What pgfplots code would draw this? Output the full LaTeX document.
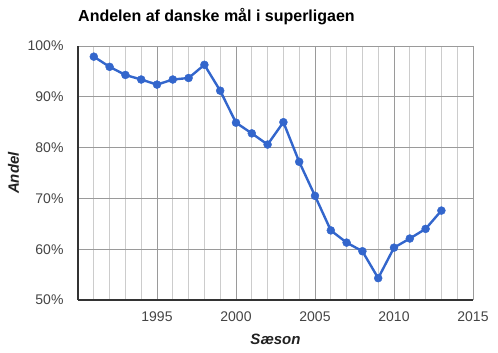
\documentclass[border=0pt]{standalone}
\usepackage{fontspec}
\setmainfont{Liberation Sans}
\usepackage{pgfplots}
\pgfplotsset{compat=1.18}
\definecolor{serie}{HTML}{3366CC}
\definecolor{majgrid}{HTML}{9A9A9A}
\definecolor{mingrid}{HTML}{CCCCCC}
\definecolor{axdark}{HTML}{333333}
\definecolor{ticktext}{HTML}{444444}
\begin{document}
\begin{tikzpicture}
\begin{axis}[
  scale only axis, width=395pt, height=254pt,
  xmin=1990, xmax=2015, ymin=50, ymax=100,
  xtick={1995,2000,2005,2010,2015},
  minor xtick={1991,1992,1993,1994,1996,1997,1998,1999,2001,2002,2003,2004,2006,2007,2008,2009,2011,2012,2013,2014},
  ytick={50,60,70,80,90,100},
  yticklabel={\pgfmathprintnumber{\tick}\%},
  /pgf/number format/assume math mode=true,
  xticklabel style={/pgf/number format/1000 sep=, font=\fontsize{14}{16}\selectfont, text=ticktext, yshift=-8pt},
  yticklabel style={font=\fontsize{14}{16}\selectfont, text=ticktext, xshift=-11pt},
  major tick length=0pt, minor tick length=0pt,
  grid=both,
  major grid style={color=majgrid, line width=0.9pt},
  minor grid style={color=mingrid, line width=0.9pt},
  axis lines=left,
  axis line style={-, color=axdark, line width=1.2pt},
  every axis title shift=0pt,
  title={Andelen af danske mål i superligaen},
  title style={at={(axis description cs:0,1.0945)}, anchor=base west, font=\bfseries\fontsize{16}{18}\selectfont, inner sep=0pt},
  xlabel={Sæson},
  ylabel={Andel},
  xlabel style={at={(axis description cs:0.5,-0.1752)}, anchor=base, font=\bfseries\itshape\fontsize{15}{18}\selectfont, inner sep=0pt, text=black!87},
  ylabel style={at={(axis description cs:-0.1494,0.5)}, anchor=base, font=\bfseries\itshape\fontsize{15}{18}\selectfont, inner sep=0pt, text=black!87},
  clip=false,
]
\addplot[color=serie, line width=2.4pt, mark=*, mark size=4pt, mark options={solid, fill=serie, draw=serie, line width=0.4pt}] coordinates {
(1991,97.9) (1992,95.9) (1993,94.3) (1994,93.4) (1995,92.4) (1996,93.4)
(1997,93.7) (1998,96.3) (1999,91.2) (2000,84.9) (2001,82.8) (2002,80.6)
(2003,85.0) (2004,77.2) (2005,70.5) (2006,63.7) (2007,61.3) (2008,59.6)
(2009,54.3) (2010,60.3) (2011,62.1) (2012,64.0) (2013,67.6)
};
\end{axis}
\path ([xshift=-78pt,yshift=-53pt]current axis.south west) rectangle ([xshift=25pt,yshift=46pt]current axis.north east);
\end{tikzpicture}
\end{document}
